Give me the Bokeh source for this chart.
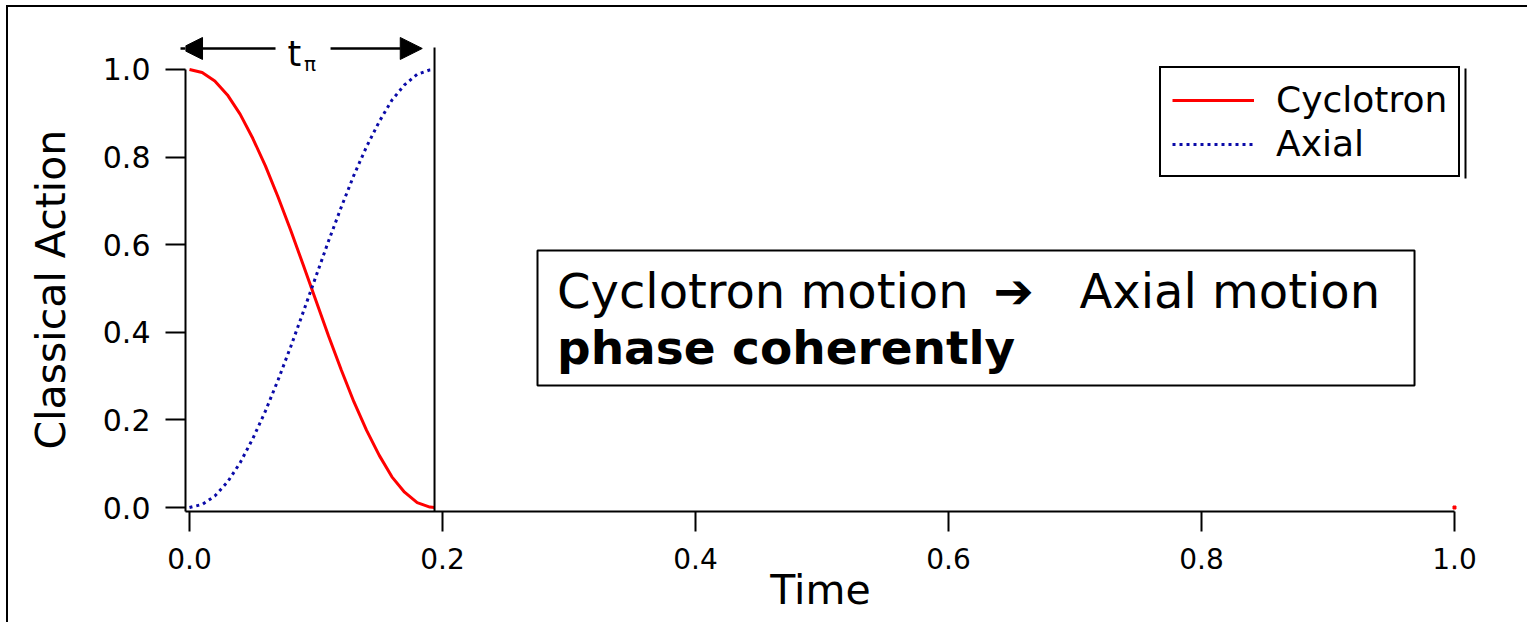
from bokeh.plotting import figure
from bokeh.models import (Range1d, FixedTicker, Legend, LegendItem, Label, Arrow,
                          NormalHead, BoxAnnotation)
from bokeh.embed import file_html
from bokeh.resources import INLINE

# ---------------- data ----------------
time_pts = [0.0, 0.01, 0.02, 0.03, 0.04, 0.05, 0.06, 0.07, 0.08, 0.09, 0.10,
            0.11, 0.12, 0.13, 0.14, 0.15, 0.16, 0.17, 0.18, 0.19, 0.1937]
cyclotron = [1.0, 0.993, 0.974, 0.942, 0.898, 0.843, 0.780, 0.709, 0.633, 0.553,
             0.472, 0.391, 0.314, 0.241, 0.176, 0.119, 0.070, 0.035, 0.011, 0.001, 0.0]
axial = [0.0, 0.007, 0.026, 0.058, 0.102, 0.157, 0.220, 0.291, 0.367, 0.447,
         0.528, 0.609, 0.686, 0.759, 0.824, 0.881, 0.930, 0.965, 0.989, 0.999, 1.0]
t_pi = 0.1937
stray_t = [1.0]
stray_cyc = [0.0]

x_ticks = [0.0, 0.2, 0.4, 0.6, 0.8, 1.0]
x_tick_labels = ["0.0", "0.2", "0.4", "0.6", "0.8", "1.0"]
y_ticks = [0.0, 0.2, 0.4, 0.6, 0.8, 1.0]
y_tick_labels = ["0.0", "0.2", "0.4", "0.6", "0.8", "1.0"]

FONT = "DejaVu Sans"

# ---------------- layout ----------------
X0, X1 = -0.003162, 1.01107
Y0, Y1 = -0.00913, 1.08219

p = figure(width=1521, height=617,
           x_range=Range1d(X0, X1), y_range=Range1d(Y0, Y1),
           output_backend="svg", toolbar_location=None,
           min_border_left=177, min_border_right=61,
           min_border_top=26, min_border_bottom=113)
p.outline_line_color = None
p.xgrid.visible = False
p.ygrid.visible = False
p.background_fill_color = "white"
p.border_fill_color = "white"
p.styles = {"margin-left": "6px", "margin-top": "5px",
            "border-left": "2px solid black", "border-top": "2px solid black"}

# axes
for ax in (p.xaxis[0], p.yaxis[0]):
    ax.axis_line_width = 2
    ax.axis_line_color = "black"
    ax.major_tick_line_width = 2
    ax.major_tick_line_color = "black"
    ax.major_tick_in = 0
    ax.major_tick_out = 20
    ax.minor_tick_line_color = None
    ax.major_label_text_font = FONT
    ax.major_label_text_color = "black"
    ax.axis_label_text_font = FONT
    ax.axis_label_text_font_style = "normal"
    ax.axis_label_text_color = "black"
    ax.axis_label_text_font_size = "41px"

p.xaxis.ticker = FixedTicker(ticks=x_ticks)
p.xaxis.major_label_overrides = dict(zip(x_ticks, x_tick_labels))
p.xaxis.bounds = (X0, 1.0)
p.xaxis.major_label_text_font_size = "28px"
p.xaxis.major_label_standoff = 16
p.xaxis.axis_label = "Time\u00a0"
p.xaxis.axis_label_standoff = -6

p.yaxis.ticker = FixedTicker(ticks=y_ticks)
p.yaxis.major_label_overrides = dict(zip(y_ticks, y_tick_labels))
p.yaxis.bounds = (Y0, 1.0)
p.yaxis.major_label_text_font_size = "30px"
p.yaxis.major_label_standoff = 15
p.yaxis.axis_label = "Classical Action\u00a0\u00a0\u2009"
p.yaxis.axis_label_standoff = 25

# ---------------- curves ----------------
r_cyc = p.line(time_pts, cyclotron, line_color="#ff0000", line_width=3)
r_ax = p.line(time_pts, axial, line_color="#0a0aa8", line_width=3, line_dash="3 4")
p.scatter(stray_t, stray_cyc, marker="square", size=3, color="#ff0000")

# t_pi vertical line
p.segment(x0=[t_pi], y0=[Y0], x1=[t_pi], y1=[1.05], line_color="black", line_width=2)

# t_pi arrows and label
arrow_y = 1.048
p.add_layout(Arrow(end=NormalHead(size=22, fill_color="black", line_color="black"),
                   x_start=0.068, y_start=arrow_y, x_end=-0.0071, y_end=arrow_y,
                   line_width=2.5, line_color="black"))
p.add_layout(Arrow(end=NormalHead(size=22, fill_color="black", line_color="black"),
                   x_start=0.1115, y_start=arrow_y, x_end=0.184, y_end=arrow_y,
                   line_width=2.5, line_color="black"))
p.add_layout(Label(x=0.0775, y=1.0365, text="t", text_font=FONT,
                   text_font_size="35px", text_baseline="middle", text_align="left",
                   text_color="black"))
p.add_layout(Label(x=0.0905, y=1.012, text="π", text_font=FONT,
                   text_font_size="20px", text_baseline="middle", text_align="left",
                   text_color="black"))

# ---------------- text box ----------------
p.add_layout(BoxAnnotation(left=0.2751, right=0.9684, bottom=0.2785, top=0.5868,
                           fill_color="white", fill_alpha=1.0,
                           line_color="black", line_width=2, line_alpha=1.0))
p.add_layout(Label(x=0.2905, y=0.4954,
                   text="Cyclotron motion \u2009➔\u00a0\u00a0 Axial motion",
                   text_font=FONT, text_font_size="48px",
                   text_baseline="middle", text_color="black"))
p.add_layout(Label(x=0.2905, y=0.365, text="phase coherently",
                   text_font=FONT, text_font_size="47px", text_font_style="bold",
                   text_baseline="middle", text_color="black"))

# ---------------- legend ----------------
legend = Legend(items=[LegendItem(label="Cyclotron", renderers=[r_cyc]),
                       LegendItem(label="Axial", renderers=[r_ax])],
                location=(974, 334), orientation="vertical",
                glyph_width=82, glyph_height=38, label_height=38,
                label_standoff=22, padding=11, spacing=3, margin=0,
                label_text_font=FONT, label_text_font_size="36px",
                label_text_color="black",
                border_line_color="black", border_line_width=2.5,
                border_line_alpha=1.0,
                background_fill_color="white", background_fill_alpha=1.0)
p.add_layout(legend)
# second edge line beside the legend box
p.segment(x0=[1.0087], y0=[1.0023], x1=[1.0087], y1=[0.7511],
          line_color="black", line_width=2)

open("out.html", "w").write(file_html(p, INLINE))
